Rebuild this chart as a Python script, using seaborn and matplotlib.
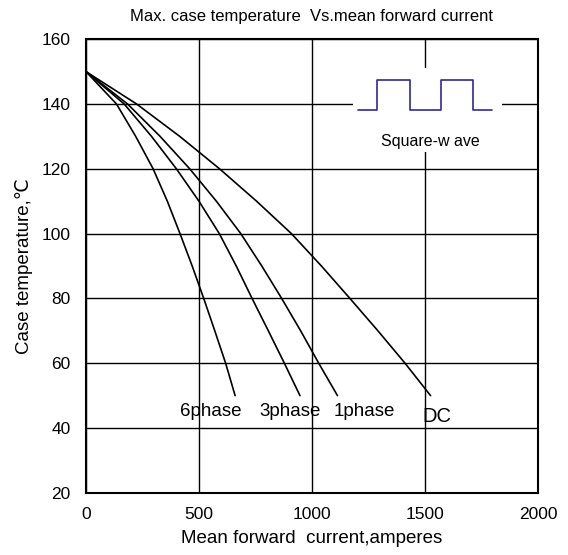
import matplotlib
matplotlib.use("Agg")
import matplotlib.pyplot as plt
from matplotlib.patches import Rectangle
import seaborn as sns
import pandas as pd

# curvas (temperatura de caja vs corriente media)
temp = [150, 140, 130, 120, 110, 100, 90, 80, 70, 60, 50]
i_6phase = [0, 135, 220, 297, 360, 416, 470, 521, 570, 618, 660]
i_3phase = [0, 169, 290, 400, 500, 590, 665, 735, 807, 878, 947]
i_1phase = [0, 184, 328, 459, 577, 685, 778, 866, 950, 1030, 1113]
i_dc = [0, 224, 415, 591, 755, 909, 1042, 1168, 1292, 1412, 1525]

curvas = {"6phase": i_6phase, "3phase": i_3phase, "1phase": i_1phase, "DC": i_dc}

# onda cuadrada del recuadro
sq_x = [1205, 1290, 1290, 1434, 1434, 1569, 1569, 1714, 1714, 1799]
sq_y = [138.1, 138.1, 147.4, 147.4, 138.1, 138.1, 147.4, 147.4, 138.1, 138.1]

# etiquetas de las curvas
etiquetas = ["6phase", "3phase", "1phase", "DC"]
etq_x = [553, 903, 1230, 1552]
etq_y = [45, 45, 45, 43.5]
etq_size = [13.5, 13.5, 13.5, 14.5]

filas = []
for nombre, xs in curvas.items():
    for x, t in zip(xs, temp):
        filas.append({"curva": nombre, "corriente": x, "temp": t})
datos = pd.DataFrame(filas)

sns.set_style("white")
plt.rcParams['font.family'] = ['Liberation Sans', 'DejaVu Sans']
plt.rcParams['text.color'] = 'black'
plt.rcParams['axes.labelcolor'] = 'black'
plt.rcParams['xtick.color'] = 'black'
plt.rcParams['ytick.color'] = 'black'

fig, ax = plt.subplots(figsize=(5.68, 5.55), dpi=100)
fig.subplots_adjust(left=0.1514, right=0.947, top=0.9294, bottom=0.112)

ax.grid(True, color="black", linewidth=1.0, zorder=0)
ax.set_axisbelow(True)

# tapa la rejilla detras del recuadro de la onda cuadrada
ax.add_patch(Rectangle((1183, 125.3), 656, 25.7, facecolor="white",
                       edgecolor="none", zorder=1))

for nombre in curvas:
    sns.lineplot(data=datos[datos["curva"] == nombre], x="corriente", y="temp",
                 sort=False, estimator=None, color="black", linewidth=1.2,
                 ax=ax, zorder=3)

ax.plot(sq_x, sq_y, color="#2b2b9a", linewidth=1.2, zorder=3)
ax.text(1522, 128.4, "Square-w ave", ha="center", va="center", fontsize=11.5)

for t, x, y, s in zip(etiquetas, etq_x, etq_y, etq_size):
    ax.text(x, y, t, ha="center", va="center", fontsize=s)

ax.set_xlim(0, 2000)
ax.set_ylim(20, 160)
ax.set_xticks([0, 500, 1000, 1500, 2000])
ax.set_yticks([20, 40, 60, 80, 100, 120, 140, 160])
ax.tick_params(axis="both", length=0, labelsize=12.5)
ax.tick_params(axis="x", pad=10)
ax.tick_params(axis="y", pad=11)

for s in ax.spines.values():
    s.set_color("black")
    s.set_linewidth(1.5)

ax.set_xlabel("Mean forward  current,amperes", fontsize=13.5, labelpad=6)
ax.set_ylabel("Case temperature,\u2103", fontsize=13.5, labelpad=6)
ax.set_title("Max. case temperature  Vs.mean forward current", fontsize=12, pad=13)

plt.savefig("out.png", dpi=100)
